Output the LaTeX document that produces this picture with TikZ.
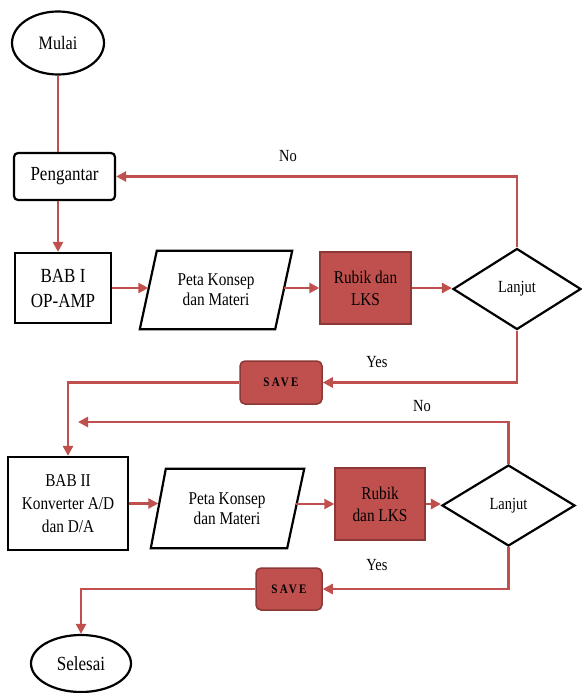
\documentclass[tikz,border=0pt]{standalone}
\usepackage{fontspec}
\setmainfont[FakeStretch=0.85]{Liberation Serif}
\usetikzlibrary{shapes.geometric,arrows.meta,calc}
\definecolor{redline}{HTML}{C0504D}
\definecolor{redfill}{HTML}{C0504D}
\definecolor{redborder}{HTML}{8C3836}
\tikzset{
  every node/.style={font=\fontsize{18}{22}\selectfont, align=center, inner sep=0pt},
  bigtxt/.style={font=\fontsize{20}{25}\selectfont},
  blk/.style={draw=black, line width=2.2pt},
  startend/.style={blk, ellipse, minimum width=#1},
  procbox/.style={blk, rectangle},
  redbox/.style={rectangle, fill=redfill, draw=redborder, line width=1.5pt},
  savebox/.style={rectangle, rounded corners=5pt, fill=redfill, draw=redborder, line width=1.5pt,
    font=\fontsize{13}{15}\selectfont\bfseries\addfontfeature{LetterSpace=18}},
  dec/.style={blk, diamond, inner sep=0pt, font=\fontsize{17}{20}\selectfont},
  link/.style={draw=redline, line width=2.6pt},
  arr/.style={link, -{Triangle[length=10pt,width=10pt]}},
  lbl/.style={font=\fontsize{17}{20}\selectfont},
}
\begin{document}
\begin{tikzpicture}[x=1pt,y=-1pt]
\useasboundingbox[fill=white] (0,0) rectangle (581,693);
% nodes
\node[startend=92pt, minimum height=63pt, font=\fontsize{19}{22}\selectfont] (mulai) at (58,43) {Mulai};
\node[procbox, rounded corners=4pt, minimum width=101pt, minimum height=47pt, bigtxt] (peng) at (64.5,176.5) {Pengantar};
\node[procbox, minimum width=96pt, minimum height=70pt, bigtxt] (bab1) at (63,288) {BAB I\\OP-AMP};
\node[minimum width=135pt, minimum height=78pt, font=\fontsize{18}{20}\selectfont] (p1) at (216,290) {Peta Konsep\\dan Materi};
\draw[blk] ($(p1.south west)+(-8.5,0)$) -- ($(p1.north west)+(8.5,0)$) -- ($(p1.north east)+(8.5,0)$) -- ($(p1.south east)+(-8.5,0)$) -- cycle;
\node[redbox, minimum width=91pt, minimum height=72pt] (r1) at (365.5,288) {Rubik dan\\LKS};
\node[dec, minimum width=128pt, minimum height=81pt] (d1) at (517,289) {Lanjut};
\node[savebox, minimum width=82pt, minimum height=43pt] (s1) at (281,382.5) {SAVE};

\node[procbox, minimum width=120pt, minimum height=93pt, font=\fontsize{18}{23}\selectfont] (bab2) at (68,503.5) {BAB II\\Konverter A/D\\dan D/A};
\node[minimum width=137pt, minimum height=79pt, font=\fontsize{18}{20}\selectfont] (p2) at (227,508.5) {Peta Konsep\\dan Materi};
\draw[blk] ($(p2.south west)+(-7.5,0)$) -- ($(p2.north west)+(7.5,0)$) -- ($(p2.north east)+(8.5,0)$) -- ($(p2.south east)+(-8.5,0)$) -- cycle;
\node[redbox, minimum width=90pt, minimum height=72pt] (r2) at (380,504) {Rubik\\dan LKS};
\node[dec, minimum width=133pt, minimum height=81pt] (d2) at (508.5,505.5) {Lanjut};
\node[savebox, minimum width=66pt, minimum height=42pt] (s2) at (289,589) {SAVE};
\node[startend=100pt, minimum height=57pt, bigtxt] (sel) at (81,663.5) {Selesai};
\coordinate (n2end) at (78,422);

% labels
\node[lbl] (no1) at (288,156) {No};
\node[lbl] (yes1) at (377,362) {Yes};
\node[lbl] (no2) at (422,406) {No};
\node[lbl] (yes2) at (377,565) {Yes};

% connectors
\draw[link] (mulai.south) -- (mulai.south |- peng.north);
\draw[arr] (mulai.south |- peng.south) -- (mulai.south |- bab1.north);
\draw[arr] (bab1.east) -- (bab1.east -| p1.west);
\draw[arr] (p1.east |- r1.west) -- (r1.west);
\draw[arr] (r1.east) -- (r1.east -| d1.west);
\draw[arr] (d1.north) |- (peng.east);
\draw[arr] (d1.south) |- (s1.east);
\draw[arr] (s1.west) -| (bab2.north);
\draw[arr] (d2.north) |- (n2end);
\draw[arr] (bab2.east) -- (bab2.east -| p2.west);
\draw[arr] (p2.east |- r2.west) -- (r2.west);
\draw[arr] (r2.east) -- (r2.east -| d2.west);
\draw[arr] (d2.south) |- (s2.east);
\draw[arr] (s2.west) -| (sel.north);
\end{tikzpicture}
\end{document}
